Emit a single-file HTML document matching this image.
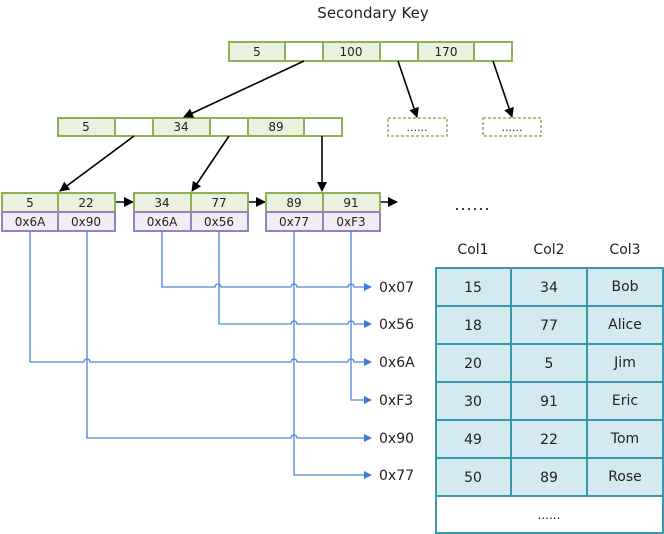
<!DOCTYPE html>
<html><head><meta charset="utf-8"><style>
html,body{margin:0;padding:0;background:#fff;}
svg{display:block;font-family:"DejaVu Sans","Liberation Sans",sans-serif;}
</style></head><body>
<svg width="664" height="534" viewBox="0 0 664 534" xmlns="http://www.w3.org/2000/svg">
<defs>
<marker id="ab" markerWidth="10" markerHeight="10" refX="9" refY="5" orient="auto" markerUnits="userSpaceOnUse"><path d="M0,0 L10,5 L0,10 z" fill="#000"/></marker>
<marker id="bl" markerWidth="8" markerHeight="8" refX="7" refY="4" orient="auto" markerUnits="userSpaceOnUse"><path d="M0,0 L8,4 L0,8 z" fill="#3a7bd5"/></marker>
</defs>
<text x="373" y="18" font-size="15" text-anchor="middle" fill="#222">Secondary Key</text>

<!-- root -->
<g stroke="#8db255" stroke-width="2">
<rect x="229" y="42" width="56" height="19" fill="#ebf0df"/>
<rect x="285" y="42" width="38" height="19" fill="#fff"/>
<rect x="323" y="42" width="57" height="19" fill="#ebf0df"/>
<rect x="380" y="42" width="38" height="19" fill="#fff"/>
<rect x="418" y="42" width="56" height="19" fill="#ebf0df"/>
<rect x="474" y="42" width="38" height="19" fill="#fff"/>
</g>
<g font-size="12" text-anchor="middle" fill="#222">
<text x="257" y="56">5</text><text x="351" y="56">100</text><text x="446" y="56">170</text>
</g>

<!-- level 2 -->
<g stroke="#8db255" stroke-width="2">
<rect x="58" y="118" width="57" height="18" fill="#ebf0df"/>
<rect x="115" y="118" width="38" height="18" fill="#fff"/>
<rect x="153" y="118" width="57" height="18" fill="#ebf0df"/>
<rect x="210" y="118" width="38" height="18" fill="#fff"/>
<rect x="248" y="118" width="56" height="18" fill="#ebf0df"/>
<rect x="304" y="118" width="38" height="18" fill="#fff"/>
</g>
<g font-size="12" text-anchor="middle" fill="#222">
<text x="86" y="131">5</text><text x="181" y="131">34</text><text x="276" y="131">89</text>
</g>
<g stroke="#8db255" stroke-width="1.5" stroke-dasharray="3,2" fill="#fff">
<rect x="388" y="118" width="59" height="18"/><rect x="483" y="118" width="58" height="18"/>
</g>
<g font-size="11" text-anchor="middle" fill="#222"><text x="417" y="131">......</text><text x="512" y="131">......</text></g>

<!-- tree arrows -->
<g stroke="#000" stroke-width="1.6" marker-end="url(#ab)">
<line x1="304" y1="61" x2="184" y2="117"/>
<line x1="398" y1="61" x2="417" y2="117"/>
<line x1="493" y1="61" x2="512" y2="117"/>
<line x1="134" y1="136" x2="60" y2="191"/>
<line x1="229" y1="136" x2="192" y2="191"/>
<line x1="322" y1="136" x2="322" y2="191"/>
<line x1="115" y1="202" x2="133" y2="202"/>
<line x1="248" y1="202" x2="265" y2="202"/>
<line x1="380" y1="202" x2="397" y2="202"/>
</g>
<g fill="#000"><circle cx="457" cy="209" r="1"/><circle cx="463" cy="209" r="1"/><circle cx="469" cy="209" r="1"/><circle cx="475" cy="209" r="1"/><circle cx="481" cy="209" r="1"/><circle cx="487" cy="209" r="1"/></g>

<!-- leaves -->
<g stroke-width="2">
<g stroke="#8db255" fill="#ebf0df">
<rect x="2" y="193" width="56" height="19"/><rect x="58" y="193" width="57" height="19"/>
<rect x="134" y="193" width="57" height="19"/><rect x="191" y="193" width="57" height="19"/>
<rect x="266" y="193" width="57" height="19"/><rect x="323" y="193" width="57" height="19"/>
</g>
<g stroke="#9a7fbf" fill="#f1edf5">
<rect x="2" y="212" width="56" height="19"/><rect x="58" y="212" width="57" height="19"/>
<rect x="134" y="212" width="57" height="19"/><rect x="191" y="212" width="57" height="19"/>
<rect x="266" y="212" width="57" height="19"/><rect x="323" y="212" width="57" height="19"/>
</g>
</g>
<g font-size="12" text-anchor="middle" fill="#222">
<text x="30" y="207">5</text><text x="86" y="207">22</text>
<text x="162" y="207">34</text><text x="219" y="207">77</text>
<text x="294" y="207">89</text><text x="351" y="207">91</text>
<text x="30" y="226">0x6A</text><text x="86" y="226">0x90</text>
<text x="162" y="226">0x6A</text><text x="219" y="226">0x56</text>
<text x="294" y="226">0x77</text><text x="351" y="226">0xF3</text>
</g>

<!-- blue pointer lines -->
<g stroke="#4a86d8" stroke-width="1.3" fill="none" marker-end="url(#bl)">
<path d="M162,231 V287 H215 a3,3 0 0 1 6,0 H291 a3,3 0 0 1 6,0 H348 a3,3 0 0 1 6,0 H371"/>
<path d="M219,231 V324 H291 a3,3 0 0 1 6,0 H348 a3,3 0 0 1 6,0 H371"/>
<path d="M30,231 V362 H84 a3,3 0 0 1 6,0 H291 a3,3 0 0 1 6,0 H348 a3,3 0 0 1 6,0 H371"/>
<path d="M351,231 V400 H371"/>
<path d="M87,231 V438 H291 a3,3 0 0 1 6,0 H371"/>
<path d="M294,231 V475 H371"/>
</g>
<g font-size="14" fill="#222">
<text x="379" y="292">0x07</text><text x="379" y="329">0x56</text><text x="379" y="367">0x6A</text>
<text x="379" y="405">0xF3</text><text x="379" y="443">0x90</text><text x="379" y="480">0x77</text>
</g>

<!-- table -->
<g font-size="14" text-anchor="middle" fill="#222">
<text x="473" y="254">Col1</text><text x="549" y="254">Col2</text><text x="625" y="254">Col3</text>
</g>
<rect x="436" y="268" width="227" height="228" fill="#d3eaf0" stroke="#3a97ad" stroke-width="2"/>
<rect x="436" y="496" width="227" height="37" fill="#fff" stroke="#3a97ad" stroke-width="2"/>
<g stroke="#3a97ad" stroke-width="2">
<line x1="511" y1="268" x2="511" y2="496"/><line x1="587" y1="268" x2="587" y2="496"/>
<line x1="436" y1="306" x2="663" y2="306"/><line x1="436" y1="344" x2="663" y2="344"/>
<line x1="436" y1="382" x2="663" y2="382"/><line x1="436" y1="420" x2="663" y2="420"/>
<line x1="436" y1="458" x2="663" y2="458"/>
</g>
<g font-size="14" text-anchor="middle" fill="#222">
<text x="473" y="292">15</text><text x="549" y="292">34</text><text x="625" y="291">Bob</text>
<text x="473" y="330">18</text><text x="549" y="330">77</text><text x="625" y="329">Alice</text>
<text x="473" y="368">20</text><text x="549" y="368">5</text><text x="625" y="367">Jim</text>
<text x="473" y="406">30</text><text x="549" y="406">91</text><text x="625" y="405">Eric</text>
<text x="473" y="444">49</text><text x="549" y="444">22</text><text x="625" y="443">Tom</text>
<text x="473" y="482">50</text><text x="549" y="482">89</text><text x="625" y="481">Rose</text>
<text x="549" y="519" font-size="12">......</text>
</g>
</svg>
</body></html>
